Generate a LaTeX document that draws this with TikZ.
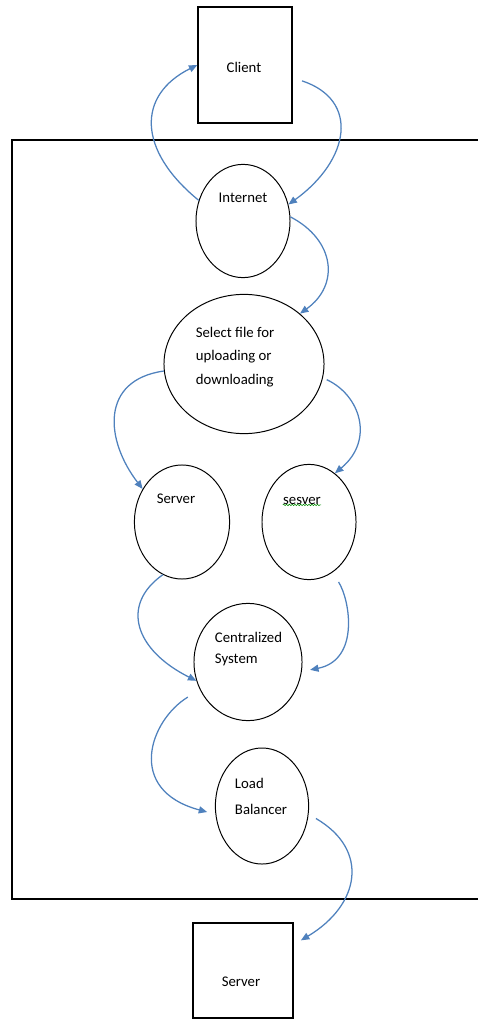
\documentclass[tikz,border=0pt]{standalone}
\usepackage{fontspec}
\setmainfont{Carlito}
\usetikzlibrary{arrows.meta,shapes.geometric,decorations.pathmorphing}

\definecolor{flowblue}{RGB}{79,129,189}

\tikzset{
  box/.style={draw,rectangle,line width=0.9pt,inner sep=0pt},
  bubble/.style={draw,ellipse,line width=0.7pt,inner sep=0pt},
  lbl/.style={inner sep=0pt,align=left,font=\fontsize{10.5}{16.5}\selectfont},
  flow/.style={draw=flowblue,line width=0.9pt,-{Triangle[length=6pt,width=5pt]}}
}

\begin{document}
\begin{tikzpicture}[x=0.025cm,y=-0.025cm]

  \useasboundingbox (0,0) rectangle (478,1023);

  % outer frame
  \draw[line width=0.9pt] (478,140) -- (12,140) -- (12,899) -- (478,899);

  \node[box,minimum width=2.35cm,minimum height=2.9cm] (client) at (245,65) {};
  \node[lbl] (clienttxt) at (244,67) {Client};

  \node[bubble,minimum width=2.35cm,minimum height=2.83cm] (inet) at (243,221) {};
  \node[lbl] (inettxt) at (243,198) {Internet};

  \node[bubble,minimum width=4cm,minimum height=3.48cm] (select) at (244,364) {};
  \node[lbl] (selecttxt) at (235,357) {Select file for\\uploading or\\downloading};

  \node[bubble,minimum width=2.38cm,minimum height=2.85cm] (server) at (182,522) {};
  \node[lbl] (servertxt) at (176,499) {Server};

  \node[bubble,minimum width=2.35cm,minimum height=2.88cm] (sesver) at (309,522) {};
  \node[lbl] (sesvertxt) at (302,501) {sesver};
  \draw[green!55!black,line width=0.4pt,decorate,
        decoration={snake,amplitude=0.5pt,segment length=2pt}]
    (sesvertxt.south west) -- (sesvertxt.south east);

  \node[bubble,minimum width=2.7cm,minimum height=2.93cm] (central) at (248,662) {};
  \node[lbl,font=\fontsize{10.5}{14.9}\selectfont] (centraltxt) at (248.5,649) {Centralized\\System};

  \node[bubble,minimum width=2.33cm,minimum height=2.9cm] (load) at (262,806) {};
  \node[lbl,font=\fontsize{10.5}{18.4}\selectfont] (loadtxt) at (261,796) {Load\\Balancer};

  \node[box,minimum width=2.5cm,minimum height=2.375cm] (srvb) at (243,970.5) {};
  \node[lbl] (srvbtxt) at (241,982) {Server};

  % connectors
  \draw[flow] (inet.155) .. controls (137,150) and (137,95) .. (client.west);
  \draw[flow,shorten <=7pt] (client.-15) .. controls (360,100) and (350,160) .. (inet.20);
  \draw[flow] (inet.5) .. controls (335,240) and (340,285) .. (select.42);
  \draw[flow] (select.185) .. controls (100,380) and (105,440) .. (server.140);
  \draw[flow,shorten <=3pt] (select.-10) .. controls (360,395) and (375,440) .. (sesver.62);
  \draw[flow] (server.-110) .. controls (120,605) and (135,650) .. (central.200);
  \draw[flow,shorten <=8pt,shorten >=6pt] (sesver.-65) .. controls (350,600) and (360,660) .. (central.-10);
  \draw[flow,shorten <=10pt,shorten >=6pt] (central.210) .. controls (150,720) and (125,790) .. (load.190);
  \draw[flow,shorten <=6pt,shorten >=6pt] (load.-10) .. controls (370,850) and (360,905) .. (srvb.27);

\end{tikzpicture}
\end{document}
